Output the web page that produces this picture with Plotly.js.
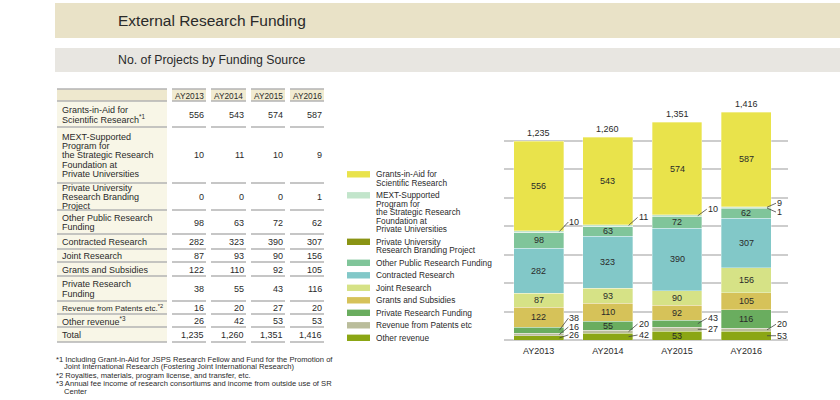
<!DOCTYPE html>
<html><head><meta charset="utf-8">
<script src="https://cdn.plot.ly/plotly-3.0.1.min.js"></script>
<style>html,body{margin:0;padding:0;background:#fff;} #chart{width:840px;height:400px;}</style>
</head><body><div id="chart"></div>
<script>
// ---------- DATA ----------
const years = ['AY2013', 'AY2014', 'AY2015', 'AY2016'];
const legendNames = [
  'Grants-in-Aid for\nScientific Research',
  'MEXT-Supported\nProgram for\nthe Strategic Research\nFoundation at\nPrivate Universities',
  'Private University\nResearch Branding Project',
  'Other Public Research Funding',
  'Contracted Research',
  'Joint Research',
  'Grants and Subsidies',
  'Private Research Funding',
  'Revenue from Patents etc',
  'Other revenue'
];
const tableNames = [
  'Grants-in-Aid for\nScientific Research<sup>*1</sup>',
  'MEXT-Supported\nProgram for\nthe Strategic Research\nFoundation at\nPrivate Universities',
  'Private University\nResearch Branding\nProject',
  'Other Public Research\nFunding',
  'Contracted Research',
  'Joint Research',
  'Grants and Subsidies',
  'Private Research\nFunding',
  'Revenue from Patents etc.<sup>*2</sup>',
  'Other revenue<sup>*3</sup>',
  'Total'
];
const grantsInAid     = [556, 543, 574, 587];
const mextProgram     = [10, 11, 10, 9];
const brandingProject = [0, 0, 0, 1];
const otherPublic     = [98, 63, 72, 62];
const contracted      = [282, 323, 390, 307];
const jointResearch   = [87, 93, 90, 156];
const grantsSubsidies = [122, 110, 92, 105];
const privateFunding  = [38, 55, 43, 116];
const patentRevenue   = [16, 20, 27, 20];
const otherRevenue    = [26, 42, 53, 53];
const totals          = [1235, 1260, 1351, 1416];
const footnotes = [
  ['*1 Including Grant-in-Aid for JSPS Research Fellow and Fund for the Promotion of', 'Joint International Research (Fostering Joint International Research)'],
  ['*2 Royalties, materials, program license, and transfer, etc.'],
  ['*3 Annual fee income of research consortiums and income from outside use of SR', 'Center']
];

// ---------- STYLE / LAYOUT CONSTANTS ----------
const series = [grantsInAid, mextProgram, brandingProject, otherPublic, contracted,
                jointResearch, grantsSubsidies, privateFunding, patentRevenue, otherRevenue];
const colors = ['#e9e34b', '#c2e5cb', '#8a9414', '#80c59a', '#82c8c8',
                '#d6e286', '#d6c259', '#6aad5f', '#babd9b', '#8ba614'];
// callouts: [seriesIndex, yearIndex, vertical offset px of label]
const callouts = [
  [1, 0, -9.5], [7, 0, -12], [8, 0, -7.5], [9, 0, -3],
  [1, 1, -8], [8, 1, -7.6], [9, 1, -1.6],
  [1, 2, -6.5], [7, 2, -5.4], [8, 2, 0],
  [1, 3, -4], [2, 3, 4], [8, 3, -5.6], [9, 3, 0]
];
const FONT = 'Liberation Sans, Arial, Helvetica, sans-serif';
const TXT = '#2a2a2a';
const W = 840, H = 400;
const PX = x => x / W, PY = y => 1 - y / H;

const shapes = [];
const annotations = [];
function rect(x0, y0, x1, y1, fill) {
  shapes.push({type: 'rect', xref: 'paper', yref: 'paper', x0: PX(x0), x1: PX(x1), y0: PY(y1), y1: PY(y0),
               fillcolor: fill, line: {width: 0}, layer: 'below'});
}
function hline(x0, x1, y, color, w) {
  shapes.push({type: 'line', xref: 'paper', yref: 'paper', x0: PX(x0), x1: PX(x1), y0: PY(y), y1: PY(y),
               line: {color: color, width: w}});
}
function text(x, y, t, size, xanchor) {
  annotations.push({xref: 'paper', yref: 'paper', x: PX(x), y: PY(y), text: t, showarrow: false,
    xanchor: xanchor || 'left', yanchor: 'middle', font: {family: FONT, size: size, color: TXT}, borderpad: 0});
}

// ---------- HEADER BARS ----------
rect(55, 3, 840, 38, '#e9e2c7');
text(117, 21, 'External Research Funding', 15.5);
rect(55, 48, 840, 72, '#e8e6e1');
text(117, 60, 'No. of Projects by Funding Source', 12.3);

// ---------- TABLE ----------
const TABLE_COLS = [[57, 167], [172, 206], [211, 246], [251, 285], [290, 324]];
const ROW_EDGES = [89, 101, 127, 183, 210, 234, 249, 262, 276, 301, 314, 327, 342];
rect(TABLE_COLS[0][0], ROW_EDGES[0], TABLE_COLS[0][1], ROW_EDGES[ROW_EDGES.length - 1], '#f8f6e7');
rect(TABLE_COLS[0][0], ROW_EDGES[0], TABLE_COLS[0][1], ROW_EDGES[1], '#eee8ce');
for (let c = 1; c < TABLE_COLS.length; c++) {
  rect(TABLE_COLS[c][0], ROW_EDGES[0], TABLE_COLS[c][1], ROW_EDGES[1], '#f1ebd1');
  text((TABLE_COLS[c][0] + TABLE_COLS[c][1]) / 2, (ROW_EDGES[0] + ROW_EDGES[1]) / 2 + 0.5, years[c - 1], 8.3, 'center');
}
ROW_EDGES.forEach(y => TABLE_COLS.forEach(c => hline(c[0], c[1], y, '#b3b3b3', 1.6)));
const tableValues = series.concat([totals]);
tableNames.forEach((name, r) => {
  const top = ROW_EDGES[r + 1], bot = ROW_EDGES[r + 2], mid = (top + bot) / 2 + 0.5;
  const lines = name.split('\n');
  const size = name.length > 30 && lines.length === 1 ? 8.1 : 9.0;
  lines.forEach((ln, i) => text(61, mid + (i - (lines.length - 1) / 2) * 9.3, ln, size));
  tableValues[r].forEach((v, c) => text(TABLE_COLS[c + 1][1] - 1.5, mid, v.toLocaleString('en-US'), 9.0, 'right'));
});

// ---------- FOOTNOTES ----------
let fy = 359;
footnotes.forEach(note => {
  note.forEach((ln, i) => { text(i ? 63 : 55, fy, ln, 7.6); fy += 7.4; });
  fy += 1.3;
});

// ---------- LEGEND ----------
let ly = 174.3;
legendNames.forEach((name, i) => {
  rect(347, ly - 3.2, 370, ly + 3.2, colors[i]);
  const lines = name.split('\n');
  lines.forEach((ln, j) => text(375, ly + j * 8.5, ln, 8.3));
  ly += (lines.length - 1) * 8.5 + 12.5;
});

// ---------- BARS ----------
const traces = [];
for (let s = series.length - 1; s >= 0; s--) {
  traces.push({type: 'bar', x: years, y: series[s], name: legendNames[s], showlegend: false,
    marker: {color: colors[s], line: {color: 'rgba(255,255,255,0.55)', width: 0.6}},
    hoverinfo: 'skip'});
}
const base = series.map(() => years.map(() => 0));
for (let yi = 0; yi < years.length; yi++) {
  let acc = 0;
  for (let s = series.length - 1; s >= 0; s--) { base[s][yi] = acc; acc += series[s][yi]; }
}
const isCallout = (s, yi) => callouts.some(c => c[0] === s && c[1] === yi);
const labelFont = {family: FONT, size: 9, color: TXT};
series.forEach((vals, s) => vals.forEach((v, yi) => {
  if (v === 0 || isCallout(s, yi)) return;
  annotations.push({xref: 'x', yref: 'y', x: yi, y: base[s][yi] + v / 2, text: String(v),
    showarrow: false, font: labelFont, yanchor: 'middle'});
}));
callouts.forEach(([s, yi, dy]) => {
  annotations.push({xref: 'x', yref: 'y', x: yi + 0.30, y: base[s][yi] + series[s][yi] / 2,
    text: String(series[s][yi]), showarrow: true, arrowhead: 0, arrowwidth: 0.8, arrowcolor: '#444',
    ax: 9, ay: dy, xanchor: 'left', yanchor: 'middle', font: labelFont, borderpad: 0, standoff: 0});
});
totals.forEach((t, yi) => annotations.push({xref: 'x', yref: 'y', x: yi, y: t, text: t.toLocaleString('en-US'),
  showarrow: false, yanchor: 'bottom', yshift: 1, font: labelFont}));

const layout = {
  width: W, height: H, margin: {l: 0, r: 0, t: 0, b: 0},
  paper_bgcolor: '#fff', plot_bgcolor: '#fff',
  barmode: 'stack', bargap: 0.28, showlegend: false,
  font: {family: FONT, color: TXT},
  xaxis: {type: 'category', domain: [504 / W, 788 / W], showgrid: false, zeroline: false, showline: false,
          ticks: '', ticklabelstandoff: 4, tickfont: {family: FONT, size: 9, color: TXT}, fixedrange: true},
  yaxis: {domain: [60 / H, 288 / H], range: [0, 1416], tick0: 0, dtick: 177, showticklabels: false,
          showgrid: true, gridcolor: '#cdcdcd', gridwidth: 2, zeroline: true, zerolinecolor: '#cdcdcd',
          zerolinewidth: 2, showline: false, ticks: '', fixedrange: true},
  shapes: shapes, annotations: annotations
};
Plotly.newPlot('chart', traces, layout, {displayModeBar: false, staticPlot: true});
</script></body></html>
